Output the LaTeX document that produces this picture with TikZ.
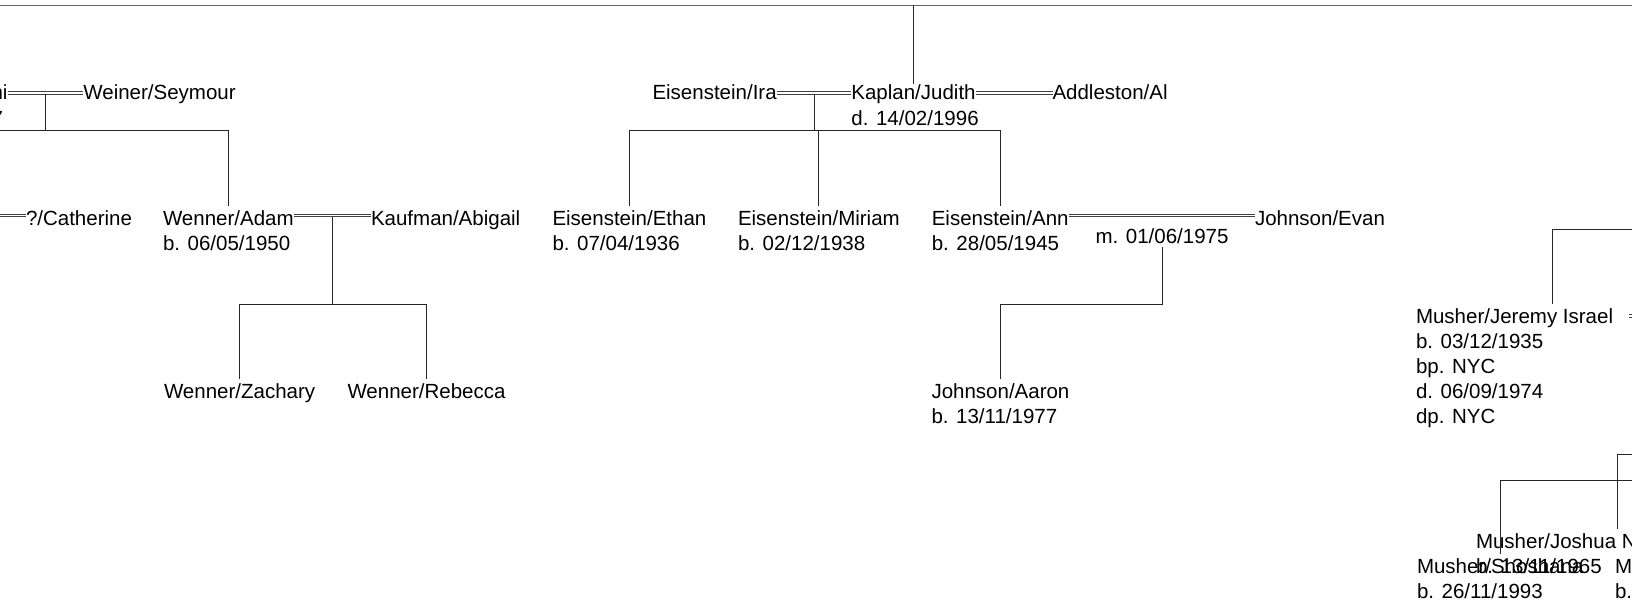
\documentclass[tikz,border=0pt]{standalone}
\usepackage{fontspec}
\setmainfont{Liberation Sans}
\usetikzlibrary{calc}
\begin{document}
\begin{tikzpicture}[x=1pt,y=-1pt,
  person/.style={anchor=base west,inner sep=0pt,outer sep=0pt,font=\fontsize{20.5}{25}\selectfont},
  link/.style={draw=black!85,line width=0.9pt},
  child/.style={link,shorten >=4pt},
  marr/.style={draw=black!75,line width=0.8pt,double=white,double distance=1.8pt},
  rule/.style={draw=black!60,line width=1.6pt}]
\useasboundingbox (0,0) rectangle (1632,607);
\clip (0,0) rectangle (1632,607);
% generation 1
\node[person] (naomi) at (-8.4,100) {\vtop{\hbox{ni}\hbox{7}}};
\node[person] (seymour) at (83.4,100) {Weiner/Seymour};
\node[person] (ira) at (652.5,100) {Eisenstein/Ira};
\node[person] (judith) at (851.4,100) {\vtop{\hbox{Kaplan/Judith}\hbox to 0pt{d. 14/02/1996\hss}}};
\node[person] (al) at (1052.5,100) {Addleston/Al};
% generation 2
\coordinate (offspouse) at (-5,225);
\node[person] (catherine) at (26,225) {?/Catherine};
\node[person] (adam) at (163,225) {\vtop{\hbox{Wenner/Adam}\hbox{b. 06/05/1950}}};
\node[person] (abigail) at (371,225) {Kaufman/Abigail};
\node[person] (ethan) at (552.5,225) {\vtop{\hbox{Eisenstein/Ethan}\hbox{b. 07/04/1936}}};
\node[person] (miriam) at (738,225) {\vtop{\hbox{Eisenstein/Miriam}\hbox{b. 02/12/1938}}};
\node[person] (ann) at (931.8,225) {\vtop{\hbox{Eisenstein/Ann}\hbox{b. 28/05/1945}}};
\node[person] (evan) at (1255,225) {Johnson/Evan};
\node[person,anchor=base] (mdate) at (1162,243) {m. 01/06/1975};
% generation 3
\node[person] (zachary) at (164,398) {Wenner/Zachary};
\node[person] (rebecca) at (347.5,398) {Wenner/Rebecca};
\node[person] (aaron) at (931.5,398) {\vtop{\hbox{Johnson/Aaron}\hbox{b. 13/11/1977}}};
\node[person] (jeremy) at (1416,323) {\vtop{\hbox{Musher/Jeremy Israel}\hbox{b. 03/12/1935}\hbox{bp. NYC}\hbox{d. 06/09/1974}\hbox{dp. NYC}}};
\node[person] (joshua) at (1476,548) {\vtop{\hbox{Musher/Joshua N}\hbox{b. 13/11/1965}}};
\node[person] (shoshana) at (1417,573) {\vtop{\hbox{Musher/Shoshana}\hbox{b. 26/11/1993}}};
\node[person] (mnode) at (1615,573) {\vtop{\hbox{M}\hbox{b.}}};
% top rule
\coordinate (tl) at (-2,5.5);
\coordinate (tr) at (1634,5.5);
\draw[rule] (tl) -- (tr);
\draw[child,shorten >=1pt] (judith.north |- tl) -- (judith.north);
% bars
\coordinate (bar1) at (0,130);
\coordinate (bar3) at (0,304);
% family Naomi--Seymour
\draw[marr] ([yshift=7pt]naomi.base east) -- ([yshift=7pt]seymour.base west);
\coordinate (f1) at ($(naomi.base east)!0.5!(seymour.base west)$);
\draw[link] ([yshift=5.5pt]f1) -- (f1 |- bar1);
\coordinate (w1) at (-5,130);
\draw[child] (w1) -- (adam.north |- bar1) -- (adam.north);
% family Ira--Judith
\draw[marr] ([yshift=7pt]ira.base east) -- ([yshift=7pt]judith.base west);
\draw[marr] ([yshift=7pt]judith.base east) -- ([yshift=7pt]al.base west);
\coordinate (f2) at ($(ira.base east)!0.5!(judith.base west)$);
\draw[link] ([yshift=5.5pt]f2) -- (f2 |- bar1);
\draw[link] (ethan.north |- bar1) -- (ann.north |- bar1);
\draw[child] (ethan.north |- bar1) -- (ethan.north);
\draw[child] (miriam.north |- bar1) -- (miriam.north);
\draw[child] (ann.north |- bar1) -- (ann.north);
% catherine
\draw[marr] ([yshift=9.5pt]offspouse) -- ([yshift=9.5pt]catherine.base west);
% family Adam--Abigail
\draw[marr] ([yshift=9.5pt]adam.base east) -- ([yshift=9.5pt]abigail.base west);
\coordinate (f3) at ($(adam.base east)!0.5!(abigail.base west)$);
\draw[link] ([yshift=8pt]f3) -- (f3 |- bar3);
\draw[link] (zachary.north |- bar3) -- (rebecca.north |- bar3);
\draw[child] (zachary.north |- bar3) -- (zachary.north);
\draw[child] (rebecca.north |- bar3) -- (rebecca.north);
% family Ann--Evan
\draw[marr] ([yshift=9.5pt]ann.base east) -- ([yshift=9.5pt]evan.base west);
\draw[child] ([yshift=-4pt]mdate.base) -- (mdate.base |- bar3) -| (aaron.north);
% Musher branch
\coordinate (mb1) at (1552,229);
\coordinate (mb1r) at (1640,229);
\draw[link] (mb1r) -- (mb1);
\draw[child] (mb1) -- (mb1 |- jeremy.north);
\coordinate (jx) at (1629,323);
\coordinate (jx2) at (1645,323);
\draw[marr] ([yshift=7pt]jx) -- ([yshift=7pt]jx2);
\coordinate (mb2) at (1617,454);
\coordinate (mb2r) at (1640,454);
\draw[link] (mb2r) -- (mb2);
\draw[child] (mb2) -- (mb2 |- joshua.north);
\coordinate (mb3r) at (1640,480);
\draw[child] (mb3r) -| (shoshana.north);
\end{tikzpicture}
\end{document}
